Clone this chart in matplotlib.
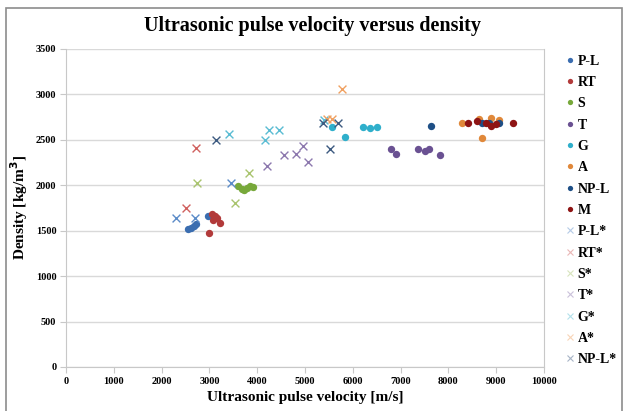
import matplotlib
matplotlib.use("Agg")
import matplotlib.pyplot as plt
from matplotlib.patches import Rectangle
from matplotlib.lines import Line2D

plt.rcParams["font.family"] = ["Liberation Serif", "DejaVu Serif"]

# Measured series (velocity m/s, density kg/m3)
pl_x = [2560, 2620, 2680, 2720, 2980]
pl_y = [1520, 1535, 1550, 1575, 1660]
rt_x = [3000, 3050, 3080, 3120, 3150, 3220]
rt_y = [1470, 1680, 1620, 1660, 1640, 1590]
s_x = [3600, 3680, 3730, 3780, 3850, 3920]
s_y = [1990, 1960, 1950, 1970, 1990, 1985]
t_x = [6800, 6900, 7370, 7500, 7600, 7820]
t_y = [2400, 2345, 2395, 2375, 2395, 2330]
g_x = [5560, 5830, 6220, 6370, 6500]
g_y = [2645, 2530, 2640, 2625, 2640]
a_x = [8290, 8650, 8700, 8890, 9060]
a_y = [2690, 2725, 2525, 2740, 2715]
npl_x = [7630, 8700, 8850, 9050]
npl_y = [2650, 2690, 2690, 2690]
m_x = [8420, 8600, 8780, 8890, 8990, 9360]
m_y = [2685, 2705, 2685, 2650, 2670, 2680]

# Starred series
pls_x = [2300, 2700, 3450]
pls_y = [1635, 1640, 2020]
rts_x = [2500, 2710]
rts_y = [1755, 2410]
ss_x = [2740, 3540, 3830]
ss_y = [2025, 1800, 2135]
ts_x = [4210, 4570, 4820, 4960, 5060]
ts_y = [2210, 2330, 2340, 2430, 2260]
gs_x = [3400, 4170, 4240, 4450, 5400]
gs_y = [2560, 2500, 2610, 2610, 2715]
as_x = [5460, 5560, 5780]
as_y = [2725, 2725, 3060]
npls_x = [3130, 5380, 5520, 5680]
npls_y = [2500, 2685, 2395, 2680]

circles = [
    ("P-L", pl_x, pl_y, "#3A6DB0"),
    ("RT", rt_x, rt_y, "#B23A3A"),
    ("S", s_x, s_y, "#77A83A"),
    ("T", t_x, t_y, "#6A5192"),
    ("G", g_x, g_y, "#2FAFCB"),
    ("A", a_x, a_y, "#E0883A"),
    ("NP-L", npl_x, npl_y, "#1E4F86"),
    ("M", m_x, m_y, "#8E1414"),
]
crosses = [
    ("P-L*", pls_x, pls_y, "#5B8BC8"),
    ("RT*", rts_x, rts_y, "#D0605E"),
    ("S*", ss_x, ss_y, "#A9C46E"),
    ("T*", ts_x, ts_y, "#8C78AE"),
    ("G*", gs_x, gs_y, "#5ABCD3"),
    ("A*", as_x, as_y, "#F0A060"),
    ("NP-L*", npls_x, npls_y, "#3C5A80"),
]

fig = plt.figure(figsize=(6.24, 4.11), dpi=100)
ax = fig.add_axes([0.1058, 0.1071, 0.766, 0.7737])

handles = []
for name, xs, ys, col in circles:
    ax.scatter(xs, ys, s=28, color=col, marker="o", zorder=3, linewidths=0)
    handles.append(Line2D([], [], ls="none", marker="o", ms=3.8, mew=0,
                          color=col, label=name))
for name, xs, ys, col in crosses:
    ax.scatter(xs, ys, s=32, color=col, marker="x", zorder=3, linewidths=1.0)
    handles.append(Line2D([], [], ls="none", marker="x", ms=4, mew=0.8,
                          color=col, alpha=0.45, label=name))

ax.set_xlim(0, 10000)
ax.set_ylim(0, 3500)
ax.set_xticks(range(0, 10001, 1000))
ax.set_yticks(range(0, 3501, 500))
ax.grid(axis="y", color="#D9D9D9", linewidth=1)
ax.set_axisbelow(True)
ax.spines["top"].set_visible(False)
for side in ["left", "bottom", "right"]:
    ax.spines[side].set_color("#C8C8C8")
ax.tick_params(axis="both", direction="out", length=4, color="#C8C8C8",
               labelsize=7.5, pad=3)
for lab in ax.get_xticklabels() + ax.get_yticklabels():
    lab.set_fontweight("bold")

ax.set_xlabel("Ultrasonic pulse velocity [m/s]", fontsize=11, fontweight="bold", labelpad=4)
ax.set_ylabel("Density [kg/m$^\\mathbf{3}$]", fontsize=11, fontweight="bold", labelpad=4)
fig.suptitle("Ultrasonic pulse velocity versus density", fontsize=14.5,
             fontweight="bold", y=0.962)

ax.legend(handles=handles, loc="upper left", bbox_to_anchor=(1.035, 1.0),
          frameon=False, handlelength=0.5, handletextpad=0.3, labelspacing=0.6,
          borderaxespad=0,
          prop={"family": "Liberation Serif", "weight": "bold", "size": 10})

fig.patches.append(Rectangle((6 / 624, -0.02), 616 / 624, 1 - 8 / 411 + 0.02,
                             transform=fig.transFigure, fill=False,
                             edgecolor="#8C8C8C", linewidth=1.2))

fig.savefig("out.png", dpi=100)
